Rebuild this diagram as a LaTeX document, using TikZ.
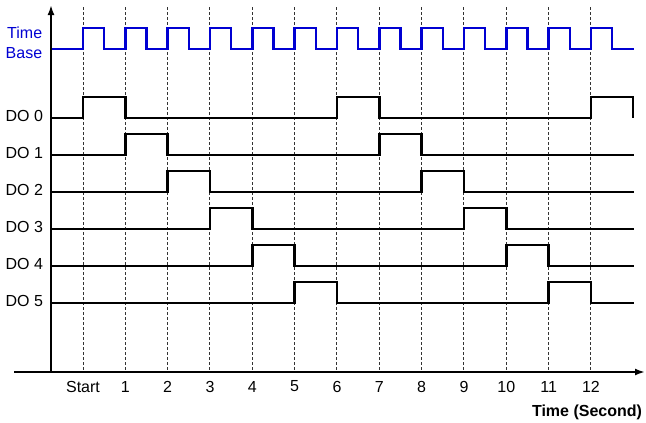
\documentclass[tikz,border=0pt]{standalone}
\usepackage{fontspec}
\setmainfont{Liberation Sans}
\usetikzlibrary{arrows.meta}
\definecolor{basecol}{RGB}{0,0,210}

\begin{document}
\begin{tikzpicture}[
        x=1pt, y=-1pt,
        every node/.style={font=\fontsize{16}{20}\selectfont, inner sep=0pt},
        axis/.style={draw=black, line width=2.8pt, -{Latex[length=10pt,width=7pt]}},
        gridline/.style={draw=black!80, line width=1pt, dash pattern=on 3pt off 2pt},
        sig/.style={draw=black, line width=2.4pt},
        basesig/.style={draw=basecol, line width=2.4pt},
        rowlab/.style={anchor=east},
        ticklab/.style={anchor=center}
    ]
    \useasboundingbox (0,0) rectangle (646,423);

    % =============== time grid (one unit = one second) ===============
    \begin{scope}[shift={(83,0)}, x=42.33pt]
        \foreach \t in {0,...,12}
        \draw[gridline] (\t,7) -- (\t,372);

        \node[ticklab] (tk0) at (0,386.5) {Start};
        \foreach \t in {1,...,12}
        \node[ticklab] (tk\t) at (\t,386.5) {\t};

        % time base clock
        \node[anchor=east, align=right, text=basecol] (tblab) at (-0.96,42.5) {Time\\Base};
        \draw[basesig] (-0.756,49)
        foreach \t in {0,...,12} { -- (\t,49) -- (\t,28) -- (\t+0.5,28) -- (\t+0.5,49) }
        -- (13.02,49);

        % DO 0 has a third pulse, cut at the right end
        \node[rowlab] (do0) at (-0.94,116) {DO 0};
        \draw[sig] (-0.756,118) -- (0,118) -- (0,97) -- (1,97) -- (1,118)
        -- (6,118) -- (6,97) -- (7,97) -- (7,118) -- (12,118)
        -- (12,97) -- (13,97) -- (13,118);

        % DO 1 .. DO 5
        \foreach \k in {1,...,5} {
            \pgfmathsetmacro\lo{118+37*\k}
            \pgfmathsetmacro\hi{\lo-21}
            \node[rowlab] (do\k) at (-0.94,\lo-2) {DO \k};
            \draw[sig] (-0.756,\lo) -- (\k,\lo) -- (\k,\hi) -- (\k+1,\hi) -- (\k+1,\lo)
            -- (\k+6,\lo) -- (\k+6,\hi) -- (\k+7,\hi) -- (\k+7,\lo) -- (13.02,\lo);
        }
    \end{scope}

    % =============== axes ===============
    \coordinate (orig) at (51,372);
    \coordinate (ytop) at (51,5);
    \coordinate (xleft) at (14,372);
    \coordinate (xright) at (645,372);
    \draw[axis] (orig) -- (ytop);
    \draw[axis] (xleft) -- (xright);
    \node[font=\fontsize{16}{20}\selectfont\bfseries] (xlab) at (587,412) {Time (Second)};

\end{tikzpicture}
\end{document}
